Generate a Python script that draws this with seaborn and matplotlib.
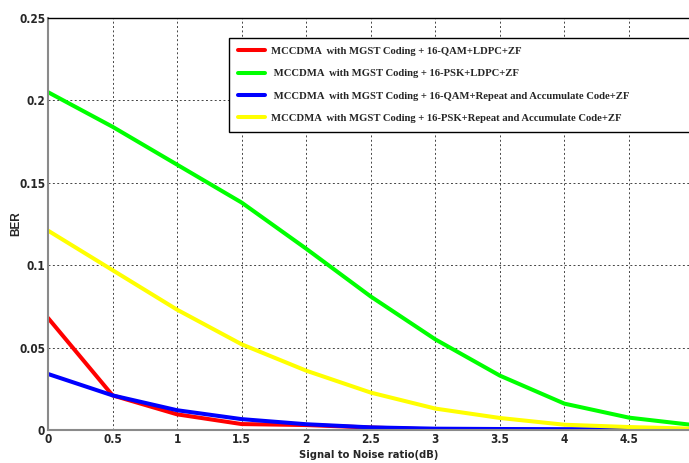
import numpy as np
import pandas as pd
import matplotlib
matplotlib.use("Agg")
import matplotlib.pyplot as plt
import seaborn as sns
from matplotlib import font_manager as fm

snr = [0, 0.5, 1, 1.5, 2, 2.5, 3, 3.5, 4, 4.5, 5]
ber_qam_ldpc = [0.068, 0.021, 0.0095, 0.0036, 0.003, 0.0015, 0.0003, np.nan, np.nan, np.nan, np.nan]
ber_psk_ldpc = [0.205, 0.184, 0.161, 0.138, 0.110, 0.081, 0.055, 0.033, 0.016, 0.0075, 0.003]
ber_qam_ra = [0.034, 0.021, 0.012, 0.0066, 0.0035, 0.0016, 0.0008, 0.0006, 0.0005, 0.0004, 0.0003]
ber_psk_ra = [0.121, 0.097, 0.073, 0.052, 0.036, 0.0227, 0.013, 0.0073, 0.0032, 0.0018, 0.0008]

labels = [
    "MCCDMA  with MGST Coding + 16-QAM+LDPC+ZF",
    " MCCDMA  with MGST Coding + 16-PSK+LDPC+ZF",
    " MCCDMA  with MGST Coding + 16-QAM+Repeat and Accumulate Code+ZF",
    "MCCDMA  with MGST Coding + 16-PSK+Repeat and Accumulate Code+ZF",
]
colors = ["#ff0000", "#00ff00", "#0000ff", "#ffff00"]
xticks = [0, 0.5, 1, 1.5, 2, 2.5, 3, 3.5, 4, 4.5]
yticks = [0, 0.05, 0.1, 0.15, 0.2, 0.25]

series = [ber_qam_ldpc, ber_psk_ldpc, ber_qam_ra, ber_psk_ra]
rows = []
for lab, vals in zip(labels, series):
    for x, v in zip(snr, vals):
        rows.append({"snr": x, "ber": v, "series": lab})
df = pd.DataFrame(rows).dropna()

sns.set_style("white")
names = {f.name for f in fm.fontManager.ttflist}
narrow = "Liberation Sans Narrow" if "Liberation Sans Narrow" in names else "DejaVu Sans"
plt.rcParams["font.family"] = [narrow, "DejaVu Sans"]

fig = plt.figure(figsize=(6.89, 4.63), dpi=100)
ax = fig.add_axes([48/689, 1 - 430/463, 1 - 48/689, (430 - 18)/463])

sns.lineplot(data=df, x="snr", y="ber", hue="series", hue_order=labels,
             palette=dict(zip(labels, colors)), linewidth=2.9, ax=ax,
             legend=False, sort=False, estimator=None)

ax.set_xlim(0, (689 - 48) / 129.1)
ax.set_ylim(0, 0.25)
ax.set_xticks(xticks)
ax.set_xticklabels([f"{t:g}" for t in xticks])
ax.set_yticks(yticks)
ax.set_yticklabels([f"{t:g}" for t in yticks])
ax.grid(True, color="#444444", linestyle=(0, (2, 2.5)), linewidth=0.7)
ax.set_axisbelow(True)
for lab in ax.get_xticklabels() + ax.get_yticklabels():
    lab.set_fontweight("bold")
    lab.set_fontsize(8.5)
    lab.set_fontstretch("condensed")
ax.tick_params(axis="both", length=0, pad=2)
ax.spines["left"].set_color("#8a8a8a")
ax.spines["bottom"].set_color("#8a8a8a")
ax.spines["left"].set_linewidth(1.5)
ax.spines["bottom"].set_linewidth(1.5)
ax.spines["top"].set_color("black")
ax.spines["top"].set_linewidth(1.0)
ax.spines["right"].set_visible(False)

ax.set_xlabel("Signal to Noise ratio(dB)", fontsize=8, fontweight="bold",
              fontstretch="condensed", labelpad=3)
ax.set_ylabel("BER", fontsize=8.5, fontweight="bold",
              fontfamily=["Liberation Sans", "DejaVu Sans"])
ax.yaxis.set_label_coords((22 - 48) / 641, 0.5)

handles = [plt.Line2D([], [], color=c, linewidth=2.9) for c in colors]
x0 = (229 - 48) / 641
y1 = 1 - (38 - 18) / 412
leg = ax.legend(handles, labels, loc="upper left", mode="expand",
                bbox_to_anchor=(x0, y1 - 0.3, 1.2 - x0, 0.3),
                prop={"family": "Liberation Serif", "weight": "bold", "size": 7.7},
                frameon=True, fancybox=False, edgecolor="black", framealpha=1,
                handlelength=2.6, handletextpad=0.5, labelspacing=1.2,
                borderpad=0.8, borderaxespad=0)
leg.get_frame().set_linewidth(1.0)

fig.savefig("out.png", dpi=100)
